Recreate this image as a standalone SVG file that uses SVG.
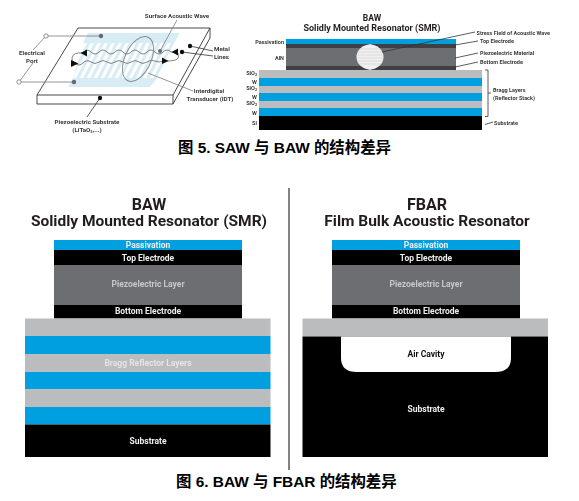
<svg xmlns="http://www.w3.org/2000/svg" width="579" height="501" viewBox="0 0 579 501">
<style>
text{font-family:Roboto,"Liberation Sans",sans-serif;font-weight:500}
.s{font-size:6.2px;fill:#3a3a3a;font-weight:700}
.r{font-size:5.500px}
.k{font-size:5.600px}
.l{font-size:8.500px;fill:#eee;text-anchor:middle;font-weight:700}
.t{fill:#231f20;text-anchor:middle;font-weight:700}
.cap{font-family:"Liberation Sans","Noto Sans CJK SC",sans-serif;font-size:15.400px;font-weight:700;fill:#000}
.ld{fill:none;stroke:#333;stroke-width:.8}
.gl{fill:none;stroke:#888;stroke-width:.9}
.wave{fill:none;stroke:#666;stroke-width:.8}
.blue{fill:#009fdf}.gray{fill:#bbbcbe}.blk{fill:#000}.pz{fill:#6d6e71}
</style>
<defs>
<filter id="soft" x="0" y="0" width="100%" height="100%"><feGaussianBlur stdDeviation=".35"/></filter>
<pattern id="fing" width="7" height="10" patternUnits="userSpaceOnUse" patternTransform="translate(80 43) skewX(-27)">
<rect width="3.500" height="10" fill="#d8ecf6"/>
</pattern>
<clipPath id="cc"><ellipse cx="370" cy="57" rx="13.500" ry="12.500"/></clipPath>
</defs>
<rect width="579" height="501" fill="#fff"/>
<g filter="url(#soft)">
<g id="saw-plate">
<path d="M78 28H210V38L173 104H37V95Z" fill="#fff" stroke="#333" stroke-width=".9"/>
<path d="M37 95H173L210 28M173 95V104" fill="none" stroke="#333" stroke-width=".9"/>
</g>
<g id="saw-idt">
<path d="M88 33H180L174 43H83ZM73 78H157L150 87H68Z" fill="#d8ecf6"/>
<path d="M83 43H174L157 78H73Z" fill="url(#fing)"/>
</g>
<g id="saw-wave">
<path class="wave" d="M83 53Q87 48 91 52T99 52T107 52T115 52T123 52T131 52T139 52T147 52T155 52T163 52T171 52L176 52Q180 53 178 58Q177 61 166 61"/>
<path class="wave" d="M75 63Q79 67 83 63T91 62T99 62T107 62T115 62T123 62T131 62T139 62T147 62T155 61T163 61M83 53Q73 52 72 58Q71 61 75 63"/>
<path d="M87 49.500V56.500L80.500 53ZM178 48.500V55.500L171.500 52Z" fill="#111"/>
<path d="M71 60L78.500 63.500L71 67ZM162 57.500L168.500 61L162 64Z" fill="#111"/>
<ellipse class="gl" cx="138" cy="59" rx="13" ry="24" transform="rotate(25 138 59)"/>
</g>
<g id="saw-connectors">
<path class="gl" d="M46 36H101M19 82H74M46 36L33 50M19 82L33 63M160 51L177 20M148 73L193 91"/>
<path class="ld" d="M190 46L213 51M182 52L213 56M100 98L87 117"/>
<circle cx="46" cy="36" r="2.200" fill="#fff" stroke="#777" stroke-width=".8"/>
<circle cx="19" cy="82" r="2.200" fill="#fff" stroke="#777" stroke-width=".8"/>
<circle cx="101" cy="36" r="2.200" fill="#667"/>
<circle cx="74" cy="82" r="2.200" fill="#667"/>
<circle cx="160" cy="51" r="2" fill="#667"/>
<circle cx="190" cy="46" r="2.200" fill="#111"/>
<circle cx="182" cy="52" r="2.200" fill="#111"/>
<circle cx="100" cy="98" r="2.200" fill="#111"/>
</g>
<g id="saw-labels">
<text class="s" x="177" y="18" text-anchor="middle">Surface Acoustic Wave</text>
<text class="s" x="32" y="55" text-anchor="middle">Electrical</text>
<text class="s" x="32" y="63" text-anchor="middle">Port</text>
<text class="s" x="214" y="51">Metal</text>
<text class="s" x="214" y="59">Lines</text>
<text class="s" x="209" y="93" text-anchor="middle">Interdigital</text>
<text class="s" x="210" y="101" text-anchor="middle">Transducer (IDT)</text>
<text class="s" x="87" y="124" text-anchor="middle">Piezoelectric Substrate</text>
<text class="s" x="87" y="132" text-anchor="middle">(LiTaO<tspan font-size="4" dy="1">3</tspan><tspan dy="-1">,...)</tspan></text>
</g>

<g id="baw-top">
<text class="t" x="372" y="21" font-size="8.500">BAW</text>
<text class="t" x="372" y="31" font-size="9">Solidly Mounted Resonator (SMR)</text>
<rect class="blue" x="286" y="39" width="170" height="5"/>
<rect x="286" y="44" width="170" height="4" fill="#3f3f42"/>
<rect class="pz" x="286" y="48" width="170" height="18"/>
<rect x="286" y="66" width="170" height="4" fill="#3f3f42"/>
<path d="M366 46L370 44L374 46V68L370 70L366 68Z" fill="#dcdcdc"/>
<ellipse cx="370" cy="57" rx="13.500" ry="12.500" fill="#f0f0f0"/>
<path clip-path="url(#cc)" d="M355 49H385M355 52H385M355 55H385M355 58H385M355 61H385M355 64H385" stroke="#cfcfcf" stroke-width=".6"/>
<rect class="gray" x="259" y="70" width="223" height="8"/>
<rect class="blue" x="259" y="78" width="223" height="8"/>
<rect class="gray" x="259" y="86" width="223" height="7"/>
<rect class="blue" x="259" y="93" width="223" height="8"/>
<rect class="gray" x="259" y="101" width="223" height="7"/>
<rect class="blue" x="259" y="108" width="223" height="8"/>
<rect class="blk" x="259" y="116" width="223" height="14"/>
</g>
<g id="baw-top-connectors">
<path class="ld" d="M382 52L475 32M455 45L478 41M455 58L478 53M455 67L478 62M485 124.500L493 122M485 70H488V116.500H485M488 93H491"/>
</g>
<g id="baw-top-labels">
<text class="s r" x="476.500" y="35">Stress Field of Acoustic Wave</text>
<text class="s r" x="480" y="43">Top Electrode</text>
<text class="s r" x="480" y="55">Piezoelectric Material</text>
<text class="s r" x="480" y="64">Bottom Electrode</text>
<text class="s r" x="493" y="91.500">Bragg Layers</text>
<text class="s r" x="493" y="100">(Reflector Stack)</text>
<text class="s r" x="494" y="125">Substrate</text>
<g text-anchor="end">
<text class="s r" x="284" y="44">Passivation</text>
<text class="s r" x="284" y="59.500">AlN</text>
<text class="s k" x="257" y="75">SiO<tspan font-size="3.600" dy=".8">2</tspan></text>
<text class="s k" x="257" y="83.500">W</text>
<text class="s k" x="257" y="90">SiO<tspan font-size="3.600" dy=".8">2</tspan></text>
<text class="s k" x="257" y="98.500">W</text>
<text class="s k" x="257" y="105">SiO<tspan font-size="3.600" dy=".8">2</tspan></text>
<text class="s k" x="257" y="114.500">W</text>
<text class="s k" x="257" y="125">Si</text>
</g>
</g>

<g id="smr">
<text class="t" x="149" y="210" font-size="16">BAW</text>
<text class="t" x="149" y="226" font-size="15.500">Solidly Mounted Resonator (SMR)</text>
<rect class="blue" x="54" y="240" width="188" height="10"/>
<rect class="blk" x="54" y="250" width="188" height="15"/>
<rect class="pz" x="54" y="265" width="188" height="40"/>
<rect class="blk" x="54" y="305" width="188" height="13.500"/>
<rect class="gray" x="25" y="318.500" width="245.500" height="17.500"/>
<rect class="blue" x="25" y="336" width="245.500" height="18"/>
<rect class="gray" x="25" y="354" width="245.500" height="18"/>
<rect class="blue" x="25" y="372" width="245.500" height="17"/>
<rect class="gray" x="25" y="389" width="245.500" height="18"/>
<rect class="blue" x="25" y="407" width="245.500" height="17.500"/>
<rect class="blk" x="25" y="424.500" width="245.500" height="32.500"/>
<text class="l" x="148" y="248">Passivation</text>
<text class="l" x="148" y="261">Top Electrode</text>
<text class="l" x="148" y="287" style="fill:#c8c8ca">Piezoelectric Layer</text>
<text class="l" x="148" y="314">Bottom Electrode</text>
<text class="l" x="148" y="366" style="fill:#e4e4e4">Bragg Reflector Layers</text>
<text class="l" x="148" y="444">Substrate</text>
</g>

<g id="divider"><path d="M289 188V470" stroke="#808285" stroke-width="2" fill="none"/></g>

<g id="fbar">
<text class="t" x="427" y="210" font-size="16">FBAR</text>
<text class="t" x="427" y="226" font-size="15.500">Film Bulk Acoustic Resonator</text>
<rect class="blue" x="332" y="240" width="188" height="10"/>
<rect class="blk" x="332" y="250" width="188" height="15"/>
<rect class="pz" x="332" y="265" width="188" height="40"/>
<rect class="blk" x="332" y="305" width="188" height="13.500"/>
<rect class="gray" x="302.500" y="318.500" width="245.500" height="18"/>
<path class="blk" d="M302.500 336.500H548V457H302.500Z"/>
<path d="M341 336.500H511V358Q511 372 495 372H357Q341 372 341 358Z" fill="#fff"/>
<text class="l" x="426" y="248">Passivation</text>
<text class="l" x="426" y="261">Top Electrode</text>
<text class="l" x="426" y="287" style="fill:#c8c8ca">Piezoelectric Layer</text>
<text class="l" x="426" y="314">Bottom Electrode</text>
<text class="l" x="426" y="357" style="fill:#111">Air Cavity</text>
<text class="l" x="426" y="412">Substrate</text>
</g>
</g>
<text class="cap" x="178" y="153">图 5. SAW 与 BAW 的结构差异</text>
<text class="cap" x="176" y="487">图 6. BAW 与 FBAR 的结构差异</text>
</svg>
